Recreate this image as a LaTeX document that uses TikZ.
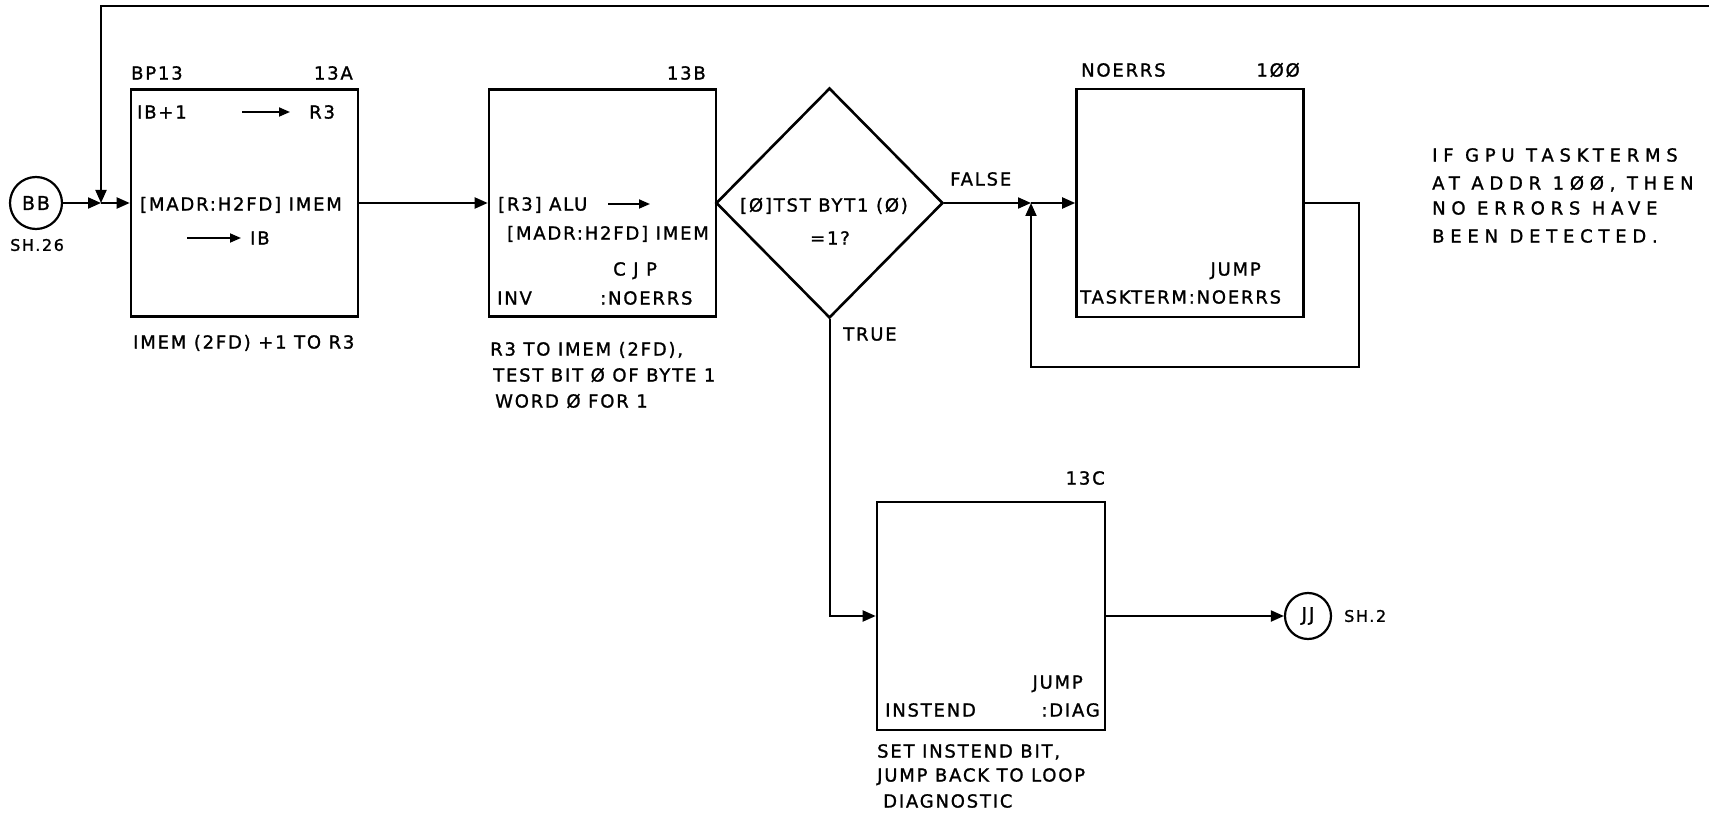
\documentclass[tikz,border=0pt]{standalone}
\usepackage{fontspec}
\newfontfamily\handfont[LetterSpace=10,FakeBold=1.2]{DejaVu Sans}
\newfontfamily\notefont[LetterSpace=32,FakeBold=1.2]{DejaVu Sans}
\usetikzlibrary{arrows.meta,shapes.geometric}
\begin{document}
\begin{tikzpicture}[x=1pt,y=-1pt,
  box/.style={draw, line width=2.6pt, minimum width=227pt, minimum height=227pt, inner sep=0pt},
  conn/.style={line width=2pt},
  arr/.style={conn, -{Triangle[length=13pt,width=11pt]}},
  iarr/.style={line width=1.8pt, -{Triangle[length=11pt,width=9pt]}},
  txt/.style={inner sep=0pt, font=\handfont\fontsize{18}{18}\selectfont, text height=13.1pt, text depth=0pt},
  lt/.style={txt, anchor=west},
  rt/.style={txt, anchor=east},
  ct/.style={txt, anchor=center},
  smalllt/.style={lt, font=\handfont\fontsize{16}{16}\selectfont, text height=11.7pt},
  note/.style={inner sep=0pt, font=\notefont\fontsize{18}{18}\selectfont, text height=13.1pt, text depth=0pt, anchor=west},
  offpage/.style={circle, draw, line width=2.2pt, minimum size=52pt, inner sep=0pt, font=\handfont\fontsize{19}{19}\selectfont}
]
\useasboundingbox (0,0) rectangle (1709,821);

% ---------- left connector ----------
\node[offpage] (BB) at (36,203) {BB};
\node[smalllt] (sh26) at (10,245) {SH.26};
\coordinate (J1) at (101,203);
\coordinate (T1) at (101,6);
\coordinate (T2) at (1709,6);

% ---------- box 13A ----------
\node[box] (A) at (244.5,203) {};
\node[lt] (bp13) at (131,73) {BP13};
\node[rt] (l13a) at (353,73) {13A};
\node[lt] (ib1) at (137,112) {IB+1};
\coordinate (a1s) at (242,112);
\coordinate (a1e) at (290,112);
\node[lt] (r3a) at (309,112) {R3};
\node[lt] (madra) at (140,204) {[MADR:H2FD] IMEM};
\coordinate (a2s) at (187,238);
\coordinate (a2e) at (241,238);
\node[lt] (iba) at (250,238) {IB};
\node[lt] (capA) at (133,342) {IMEM (2FD) +1 TO R3};

% ---------- box 13B ----------
\node[box] (B) at (602.5,203) {};
\node[rt] (l13b) at (706,73) {13B};
\node[lt] (r3alu) at (498,204) {[R3] ALU};
\coordinate (b1s) at (608,204);
\coordinate (b1e) at (650,204);
\node[lt] (madrb) at (507,233) {[MADR:H2FD] IMEM};
\node[lt] (cjp) at (613,269) {C J P};
\node[lt] (inv) at (497,298) {INV};
\node[lt] (noerrsb) at (600,298) {:NOERRS};
\node[lt] (capB1) at (490,349) {R3 TO IMEM (2FD),};
\node[lt] (capB2) at (493,375) {TEST BIT Ø OF BYTE 1};
\node[lt] (capB3) at (495,401) {WORD Ø FOR 1};

% ---------- decision ----------
\node[diamond, draw, line width=2.6pt, minimum width=227pt, minimum height=230pt, inner sep=0pt] (D) at (829.5,203) {};
\node[ct] (dt1) at (824,205) {[Ø]TST BYT1 (Ø)};
\node[ct] (dt2) at (830,238) {=1?};
\node[lt] (false) at (950,179) {FALSE};
\node[lt] (true) at (843,334) {TRUE};

% ---------- box NOERRS ----------
\node[box, minimum height=228pt] (N) at (1190,203) {};
\node[lt] (noerrsl) at (1081,70) {NOERRS};
\node[rt] (l100) at (1300,70) {1ØØ};
\node[rt] (jumpn) at (1261,269) {JUMP};
\node[lt] (tt) at (1080,297) {TASKTERM:NOERRS};
\coordinate (J2) at (1031,203);
\coordinate (L1) at (1359,203);
\coordinate (L2) at (1359,367);
\coordinate (L3) at (1031,367);

% ---------- note ----------
\node[note] (n1) at (1432,155) {IF GPU TASKTERMS};
\node[note] (n2) at (1432,183) {AT ADDR 1ØØ, THEN};
\node[note] (n3) at (1432,208) {NO ERRORS HAVE};
\node[note] (n4) at (1432,236) {BEEN DETECTED.};

% ---------- box 13C ----------
\node[box, minimum width=228pt, minimum height=228pt] (C) at (991,616) {};
\node[rt] (l13c) at (1105,478) {13C};
\node[rt] (jumpc) at (1083,682) {JUMP};
\node[lt] (instend) at (885,710) {INSTEND};
\node[rt] (diag) at (1100,710) {:DIAG};
\node[lt] (capC1) at (877,751) {SET INSTEND BIT,};
\node[lt] (capC2) at (877,775) {JUMP BACK TO LOOP};
\node[lt] (capC3) at (883,801) {DIAGNOSTIC};
\coordinate (T3) at (829.5,616);

\node[offpage, minimum size=46pt] (JJ) at (1308,616) {JJ};
\node[smalllt] (sh2) at (1344,616) {SH.2};

% ---------- connectors ----------
\draw[arr] (BB) -- (J1);
\draw[arr] (J1) -- (A.west);
\draw[arr] (T2) -- (T1) -- (J1);
\draw[arr] (A.east) -- (B.west);
\draw[arr] (D.east) -- (J2);
\draw[arr] (J2) -- (N.west);
\draw[arr] (N.east) -- (L1) -- (L2) -- (L3) -- (J2);
\draw[arr] (D.south) -- (T3) -- (C.west);
\draw[arr] (C.east) -- (JJ);

% ---------- arrows written inside boxes ----------
\draw[iarr] (a1s) -- (a1e);
\draw[iarr] (a2s) -- (a2e);
\draw[iarr] (b1s) -- (b1e);
\end{tikzpicture}
\end{document}
